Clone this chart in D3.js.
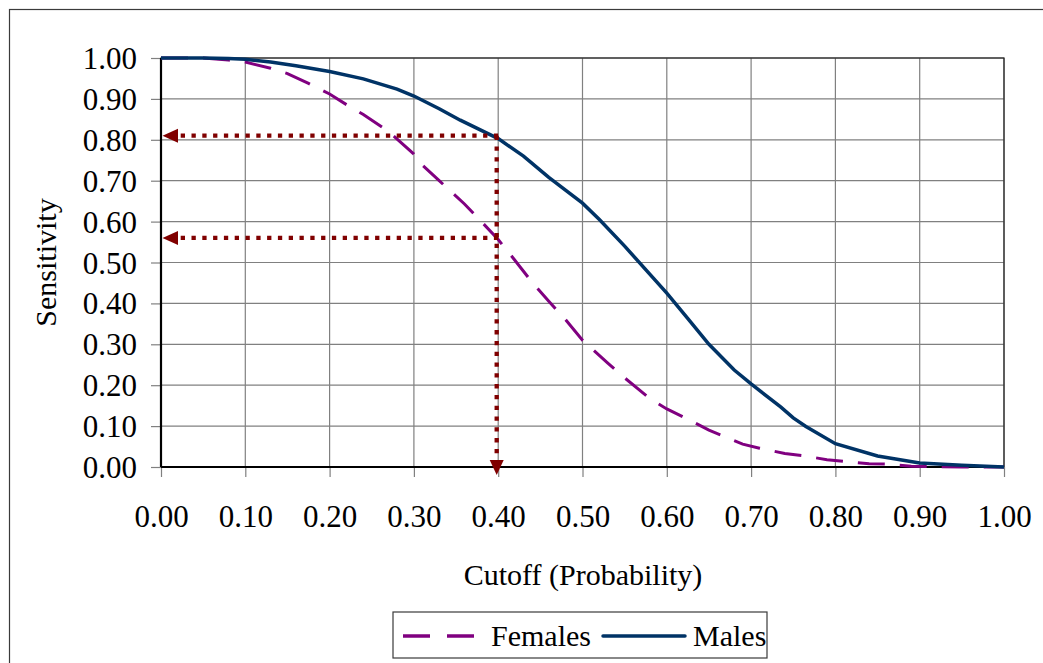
<!DOCTYPE html>
<html>
<head>
<meta charset="utf-8">
<script src="https://cdn.jsdelivr.net/npm/d3@7"></script>
<style>
  html, body { margin: 0; padding: 0; background: #fff; }
  svg { display: block; }
  svg text { font-family: "Liberation Serif", "Times New Roman", "DejaVu Serif", serif; }
</style>
</head>
<body>
<svg id="chart" width="1043" height="663"></svg>
<script>
// ---- data ----
const xTicks = [0, 0.1, 0.2, 0.3, 0.4, 0.5, 0.6, 0.7, 0.8, 0.9, 1.0];
const yTicks = [0, 0.1, 0.2, 0.3, 0.4, 0.5, 0.6, 0.7, 0.8, 0.9, 1.0];

const maleCutoff = [0, 0.05, 0.08, 0.10, 0.13, 0.16, 0.20, 0.24, 0.28, 0.30, 0.33, 0.355, 0.40, 0.43, 0.46, 0.50, 0.52, 0.55, 0.60, 0.625, 0.65, 0.68, 0.70, 0.735, 0.75, 0.765, 0.80, 0.85, 0.90, 0.95, 1.00];
const maleSens   = [1.000, 1.000, 0.999, 0.997, 0.990, 0.981, 0.967, 0.949, 0.924, 0.907, 0.876, 0.848, 0.803, 0.760, 0.708, 0.645, 0.605, 0.540, 0.425, 0.363, 0.300, 0.237, 0.203, 0.147, 0.120, 0.099, 0.057, 0.027, 0.010, 0.004, 0.000];

const femaleCutoff = [0, 0.05, 0.08, 0.10, 0.13, 0.15, 0.175, 0.20, 0.22, 0.24, 0.27, 0.30, 0.31, 0.33, 0.36, 0.38, 0.40, 0.42, 0.44, 0.46, 0.48, 0.50, 0.53, 0.55, 0.58, 0.60, 0.625, 0.65, 0.69, 0.71, 0.74, 0.76, 0.79, 0.81, 0.84, 0.86, 0.89, 0.92, 0.95, 1.00];
const femaleSens   = [1.000, 1.000, 0.995, 0.990, 0.975, 0.962, 0.938, 0.912, 0.886, 0.862, 0.820, 0.765, 0.738, 0.700, 0.643, 0.600, 0.556, 0.505, 0.452, 0.405, 0.360, 0.310, 0.254, 0.218, 0.167, 0.142, 0.117, 0.090, 0.056, 0.046, 0.033, 0.028, 0.018, 0.014, 0.008, 0.007, 0.002, 0.001, 0.000, 0.000];

const cutoffMark = 0.40;
const markSens = [0.81, 0.56];

const seriesNames = ["Females", "Males"];

// ---- layout ----
const svg = d3.select("#chart");
const L = 161, R = 1004, T = 58, B = 467;
const x = d3.scaleLinear().domain([0, 1]).range([L, R]);
const y = d3.scaleLinear().domain([0, 1]).range([B, T]);
const serif = "Liberation Serif, Times New Roman, serif";

const femaleColor = "#800080", maleColor = "#003366", arrowColor = "#800000";

// outer frame
svg.append("rect").attr("x", 9.5).attr("y", 9.5).attr("width", 1045).attr("height", 665)
  .attr("fill", "#fff").attr("stroke", "#3a3a3a").attr("stroke-width", 1.2);

// gridlines
const grid = svg.append("g");
grid.selectAll("line.h").data(yTicks).join("line")
  .attr("x1", L).attr("x2", R).attr("y1", d => y(d)).attr("y2", d => y(d))
  .attr("stroke", "#808080").attr("stroke-width", 1.2);
grid.selectAll("line.v").data(xTicks).join("line")
  .attr("y1", T).attr("y2", B).attr("x1", d => x(d)).attr("x2", d => x(d))
  .attr("stroke", "#808080").attr("stroke-width", 1.2);

// plot border
svg.append("rect").attr("x", L).attr("y", T).attr("width", R - L).attr("height", B - T)
  .attr("fill", "none").attr("stroke", "#222").attr("stroke-width", 1.2);

// axes
const yAxis = d3.axisLeft(y).tickValues(yTicks).tickFormat(d3.format(".2f")).tickSize(10).tickPadding(14);
const xAxis = d3.axisBottom(x).tickValues(xTicks).tickFormat(d3.format(".2f")).tickSize(10).tickPadding(28);

const gy = svg.append("g").attr("transform", `translate(${L},0)`).call(yAxis);
gy.attr("font-family", serif);
gy.select(".domain").remove();
gy.selectAll(".tick line").attr("stroke", "#808080").attr("stroke-width", 1.2);
gy.selectAll(".tick text").attr("font-size", 31).attr("fill", "#000")
  .attr("font-family", serif).attr("dy", "0.34em");

const gx = svg.append("g").attr("transform", `translate(0,${B})`).call(xAxis);
gx.attr("font-family", serif);
gx.select(".domain").remove();
gx.selectAll(".tick line").attr("stroke", "#808080").attr("stroke-width", 1.2);
gx.selectAll(".tick text").attr("font-size", 31).attr("fill", "#000")
  .attr("font-family", serif);

// axis lines
svg.append("line").attr("x1", L).attr("x2", L).attr("y1", T).attr("y2", B)
  .attr("stroke", "#000").attr("stroke-width", 2.2);
svg.append("line").attr("x1", L).attr("x2", R).attr("y1", B).attr("y2", B)
  .attr("stroke", "#000").attr("stroke-width", 2.2);

// series
const line = d3.line().x(d => x(d[0])).y(d => y(d[1]));
const femaleData = femaleCutoff.map((c, i) => [c, femaleSens[i]]);
const maleData = maleCutoff.map((c, i) => [c, maleSens[i]]);

svg.append("path").attr("d", line(femaleData)).attr("fill", "none")
  .attr("stroke", femaleColor).attr("stroke-width", 3).attr("stroke-dasharray", "27,15");
svg.append("path").attr("d", line(maleData)).attr("fill", "none")
  .attr("stroke", maleColor).attr("stroke-width", 3.5);

// dotted guide lines with arrows
const dotted = svg.append("g");
markSens.forEach(s => {
  dotted.append("line")
    .attr("x1", x(cutoffMark)).attr("x2", x(0) + 14)
    .attr("y1", y(s)).attr("y2", y(s))
    .attr("stroke", arrowColor).attr("stroke-width", 4.3).attr("stroke-dasharray", "4.3,6.5");
  dotted.append("path")
    .attr("d", `M${x(0) + 1.5},${y(s)} L${x(0) + 17},${y(s) - 7} L${x(0) + 17},${y(s) + 7} Z`)
    .attr("fill", arrowColor);
});
dotted.append("line")
  .attr("x1", x(cutoffMark) - 1.5).attr("x2", x(cutoffMark) - 1.5)
  .attr("y1", y(markSens[0])).attr("y2", y(0) - 8)
  .attr("stroke", arrowColor).attr("stroke-width", 4.3).attr("stroke-dasharray", "4.3,6.5");
dotted.append("path")
  .attr("d", `M${x(cutoffMark) - 1.5},${y(0) + 8} L${x(cutoffMark) - 8.5},${y(0) - 7} L${x(cutoffMark) + 5.5},${y(0) - 7} Z`)
  .attr("fill", arrowColor);

// axis titles
svg.append("text").attr("x", 583).attr("y", 585).attr("text-anchor", "middle")
  .attr("font-family", serif).attr("font-size", 30).attr("fill", "#000").text("Cutoff (Probability)");
svg.append("text").attr("transform", `translate(56,${(T + B) / 2}) rotate(-90)`)
  .attr("font-family", serif).attr("text-anchor", "middle").attr("font-size", 30).attr("fill", "#000").text("Sensitivity");

// legend
const lg = svg.append("g");
lg.append("rect").attr("x", 393).attr("y", 612).attr("width", 374).attr("height", 46)
  .attr("fill", "#fff").attr("stroke", "#3a3a3a").attr("stroke-width", 1.2);
lg.append("line").attr("x1", 403).attr("x2", 474).attr("y1", 636).attr("y2", 636)
  .attr("stroke", femaleColor).attr("stroke-width", 3.5).attr("stroke-dasharray", "27,17");
lg.append("text").attr("x", 491).attr("y", 646).attr("font-family", serif).attr("font-size", 30).attr("fill", "#000").text(seriesNames[0]);
lg.append("line").attr("x1", 603).attr("x2", 685).attr("y1", 636).attr("y2", 636)
  .attr("stroke", maleColor).attr("stroke-width", 3.5).attr("stroke-linecap", "round");
lg.append("text").attr("x", 693).attr("y", 646).attr("font-family", serif).attr("font-size", 30).attr("fill", "#000").text(seriesNames[1]);
</script>
</body>
</html>
